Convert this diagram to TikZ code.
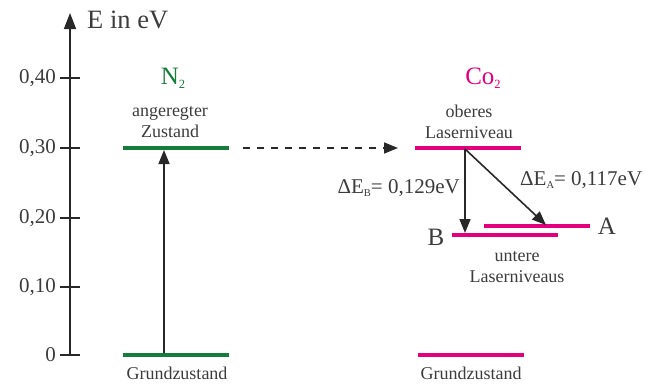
\documentclass[tikz,border=0pt]{standalone}
\usepackage{fontspec}
\setmainfont{Liberation Serif}
\usetikzlibrary{arrows.meta}
\definecolor{ngreen}{RGB}{20,125,60}
\definecolor{cpink}{RGB}{228,0,125}
\definecolor{ink}{RGB}{40,40,40}
\definecolor{txt}{RGB}{60,60,60}
\newcommand\lowsub[1]{\raisebox{-0.35ex}{\scalebox{0.5}{#1}}}
\begin{document}
\begin{tikzpicture}[x=1pt,y=-1pt,
  lvlg/.style={draw=ngreen,line width=4pt},
  lvlp/.style={draw=cpink,line width=4pt},
  conn/.style={draw=ink,line width=1.6pt,-{Triangle[length=14pt,width=11pt]}},
  small/.style={font=\fontsize{18}{21}\selectfont,text=txt,inner sep=0pt,align=center},
  big/.style={font=\fontsize{25}{27}\selectfont,text=txt,inner sep=0pt},
  delta/.style={font=\fontsize{21}{23}\selectfont,text=txt,inner sep=0pt},
  ticklab/.style={font=\fontsize{21}{23}\selectfont,text=txt,anchor=east,inner sep=0pt}]
\useasboundingbox (0,0) rectangle (660,383);
% axis
\coordinate (ax0) at (70,355);
\coordinate (axtop) at (70,13);
\draw[draw=ink,line width=1.6pt,-{Triangle[length=16pt,width=12pt]}] (ax0) -- (axtop);
\node[font=\fontsize{26.5}{28}\selectfont,text=txt,inner sep=0pt,anchor=west] (elab) at (87,20) {E in eV};
\foreach \v/\lab [count=\i] in {355/0,287/{0,10},218/{0,20},148/{0,30},78/{0,40}}{
  \draw[draw=ink,line width=1.2pt] (60,\v) -- (80,\v);
  \node[ticklab] (t\i) at (56,\v) {\lab};
}
% N2
\coordinate (n2gl) at (123,355); \coordinate (n2gr) at (229,355);
\coordinate (n2el) at (123,148); \coordinate (n2er) at (229,148);
\draw[lvlg] (n2gl) -- (n2gr);
\draw[lvlg] (n2el) -- (n2er);
\coordinate (n2a) at (164,353); \coordinate (n2b) at (164,150);
\draw[conn] (n2a) -- (n2b);
\node[font=\fontsize{25}{27}\selectfont,text=ngreen,inner sep=0pt] (n2) at (173,78) {N\lowsub{2}};
\node[small] (ang) at (170,122) {angeregter\\Zustand};
\node[small] (g1) at (177,373) {Grundzustand};
% transfer
\coordinate (d1) at (243,148); \coordinate (d2) at (398,148);
\draw[draw=ink,line width=1.6pt,dash pattern=on 7pt off 7pt,-{Triangle[length=14pt,width=11pt]}] (d1) -- (d2);
% CO2
\node[font=\fontsize{25}{27}\selectfont,text=cpink,inner sep=0pt] (co2) at (483,78) {Co\lowsub{2}};
\node[small] (ob) at (469,122) {oberes\\Laserniveau};
\coordinate (ul) at (415,148); \coordinate (ur) at (521,148);
\draw[lvlp] (ul) -- (ur);
\coordinate (bl) at (452,235); \coordinate (br) at (558,235);
\coordinate (al) at (484,226); \coordinate (ar) at (590,226);
\draw[lvlp] (bl) -- (br);
\draw[lvlp] (al) -- (ar);
\coordinate (gl) at (418,355); \coordinate (gr) at (524,355);
\draw[lvlp] (gl) -- (gr);
\node[big] (B) at (436,237) {B};
\node[big] (A) at (607,226) {A};
\coordinate (s) at (465,149);
\coordinate (bt) at (465,233);
\coordinate (at) at (546,225);
\draw[conn] (s) -- (bt);
\draw[conn] (s) -- (at);
\node[delta,anchor=east] (eb) at (460,188) {ΔE\lowsub{B}= 0,129eV};
\node[delta,anchor=west] (ea) at (520,180) {ΔE\lowsub{A}= 0,117eV};
\node[small] (un) at (517,267) {untere\\Laserniveaus};
\node[small] (g2) at (471,373) {Grundzustand};
\end{tikzpicture}
\end{document}
